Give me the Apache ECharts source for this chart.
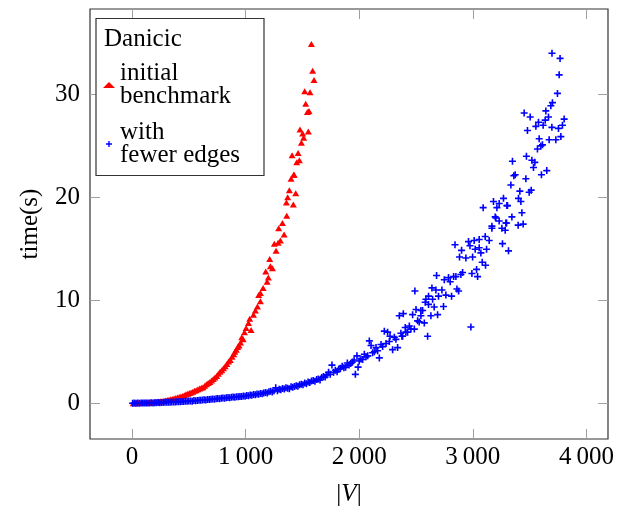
<!DOCTYPE html>
<html>
<head>
<meta charset="utf-8">
<script src="https://cdn.jsdelivr.net/npm/echarts@6/dist/echarts.min.js"></script>
<style>
  html, body { margin: 0; padding: 0; background: #fff; }
  #chart { width: 618px; height: 512px; }
</style>
</head>
<body>
<div id="chart"></div>
<script>
// values, [|V|, time(s)]
const initialBenchmark = [
  [10,0.0],[25,0.01],[40,0.0],[55,0.02],[70,0.01],[85,0.03],[100,0.03],[115,0.04],[130,0.06],[145,0.05],
  [160,0.08],[175,0.09],[190,0.1],[205,0.13],[220,0.14],[235,0.17],[250,0.19],[265,0.2],[280,0.24],[295,0.27],
  [310,0.3],[325,0.33],[340,0.38],[355,0.4],[370,0.46],[385,0.5],[400,0.55],[415,0.6],[430,0.66],[445,0.7],
  [460,0.78],[475,0.86],[490,0.92],[505,0.98],[520,1.05],[535,1.1],[550,1.2],[565,1.25],[580,1.35],[595,1.42],
  [610,1.5],[625,1.55],[640,1.7],[655,1.85],[670,1.95],[685,2.05],[700,2.2],[715,2.35],[730,2.5],[745,2.65],
  [760,2.85],[775,3.05],[790,3.2],[805,3.4],[820,3.6],[835,3.8],[850,4.05],[865,4.2],[880,4.5],[895,4.75],
  [905,5.0],[918,5.2],[930,5.45],[942,5.6],[955,5.9],[966,6.4],[978,6.2],[990,6.9],
  [1004,7.3],[1025,7.8],[1036,8.2],[1048,7.1],[1069,8.6],[1086,9.0],[1104,9.4],[1115,10.5],[1130,9.9],[1130,10.7],
  [1154,11.2],[1177,12.8],[1189,11.8],[1200,12.2],[1212,14.0],[1218,13.3],[1236,13.1],[1253,15.5],[1268,14.8],[1286,15.6],
  [1291,17.0],[1306,15.8],[1324,17.5],[1339,16.4],[1359,19.5],[1362,18.2],[1370,20.0],[1385,20.7],[1400,21.8],[1409,24.1],
  [1420,19.3],[1423,22.2],[1427,22.2],[1441,20.4],[1450,23.4],[1462,24.3],[1473,23.6],[1479,26.6],[1491,25.3],[1502,26.2],
  [1511,25.8],[1520,30.3],[1529,29.1],[1544,28.3],[1552,26.4],[1558,28.4],[1567,30.2],[1579,34.9],[1590,32.3],[1602,31.4]
]

const fewerEdges = [
  [5,0.0],[20,0.01],[35,0.0],[50,0.01],[65,0.0],[80,0.02],[95,0.01],[110,0.02],[125,0.03],[140,0.02],
  [155,0.03],[170,0.04],[185,0.03],[200,0.05],[215,0.04],[230,0.06],[245,0.05],[260,0.07],[275,0.06],[290,0.08],
  [305,0.08],[320,0.1],[335,0.09],[350,0.11],[365,0.12],[380,0.11],[395,0.14],[410,0.13],[425,0.15],[440,0.17],
  [455,0.16],[470,0.19],[485,0.18],[500,0.21],[515,0.22],[530,0.2],[545,0.25],[560,0.24],[575,0.27],[590,0.29],
  [605,0.28],[620,0.31],[635,0.33],[650,0.32],[665,0.36],[680,0.35],[695,0.39],[710,0.4],[725,0.38],[740,0.43],
  [755,0.45],[770,0.44],[785,0.48],[800,0.5],[815,0.47],[830,0.53],[845,0.55],[860,0.52],[875,0.58],[890,0.6],
  [905,0.57],[920,0.63],[935,0.62],[950,0.66],[965,0.64],[980,0.7],[995,0.68],[1010,0.74],[1025,0.72],[1040,0.79],
  [1055,0.77],[1070,0.84],[1085,0.82],[1100,0.9],[1115,0.87],[1130,0.95],[1145,0.92],[1160,1.0],[1175,1.05],[1190,0.98],
  [1205,1.1],[1220,1.15],[1235,1.08],[1250,1.22],[1265,1.5],[1280,1.2],[1295,1.35],[1310,1.3],[1325,1.42],[1340,1.38],
  [1355,1.5],[1370,1.45],[1385,1.4],[1400,1.6],[1415,1.55],[1430,1.62],[1445,1.7],[1460,1.65],[1475,1.78],[1490,1.85],
  [1505,1.8],[1520,1.95],[1535,1.9],[1550,2.05],[1565,2.0],[1580,2.15],[1595,2.2],[1610,2.12],[1625,2.3],[1640,2.35],
  [1655,2.25],[1670,2.5],[1685,2.6],[1700,2.55],[1715,2.75],[1730,3.0],[1745,2.8],[1760,3.7],[1775,3.0],[1790,3.2],
  [1805,3.05],[1820,3.3],[1835,3.4],[1850,3.6],[1865,3.45],[1880,3.5],[1895,3.9],[1910,3.7],[1925,3.85],[1940,4.0],
  [1955,4.2],[1966,2.8],[1980,4.6],[1990,3.5],[2000,4.1],[2015,4.3],[2030,4.25],[2045,4.75],[2060,4.5],[2075,4.6],
  [2089,6.05],[2104,5.6],[2118,4.9],[2133,5.0],[2148,5.4],[2162,5.1],[2177,4.4],[2192,5.7],[2206,5.5],[2221,7.0],
  [2236,5.8],[2250,6.9],[2265,6.0],[2271,6.5],[2294,5.2],[2309,6.4],[2323,6.2],[2338,5.4],[2353,8.5],[2367,6.8],
  [2376,6.5],[2382,6.5],[2388,8.7],[2405,7.35],[2411,6.9],[2426,6.9],[2441,7.5],[2455,7.2],[2470,8.6],[2485,7.2],
  [2490,10.9],[2500,9.1],[2514,8.0],[2528,7.9],[2543,9.0],[2543,8.5],[2558,9.0],[2573,7.8],[2581,9.8],[2587,10.1],
  [2602,6.5],[2610,10.4],[2610,9.6],[2631,8.5],[2640,11.2],[2646,10.1],[2660,9.35],[2675,11.0],[2681,12.4],[2690,8.6],
  [2698,10.4],[2728,11.0],[2742,9.4],[2749,12.0],[2763,10.5],[2786,12.2],[2801,11.8],[2813,10.4],[2831,12.3],[2843,15.4],
  [2851,12.3],[2860,11.1],[2875,10.9],[2883,14.2],[2895,12.5],[2901,14.85],[2910,12.7],[2939,14.1],[2962,15.7],[2975,15.3],
  [2983,7.4],[2992,12.6],[2998,14.2],[3012,15.8],[3021,14.95],[3033,13.0],[3042,12.3],[3056,15.9],[3056,15.1],[3071,14.6],
  [3083,13.7],[3091,19.0],[3109,16.2],[3112,13.4],[3121,14.95],[3144,15.8],[3168,17.0],[3168,17.2],[3182,19.6],[3197,18.1],
  [3203,18.0],[3212,19.0],[3232,19.4],[3232,17.7],[3256,17.0],[3261,15.5],[3270,19.9],[3285,16.8],[3291,17.5],[3297,17.5],
  [3300,19.2],[3305,19.2],[3314,14.8],[3335,21.2],[3344,18.1],[3349,23.5],[3361,22.1],[3373,22.2],[3399,17.3],[3402,19.9],
  [3414,20.6],[3423,19.6],[3432,18.5],[3443,17.4],[3452,28.2],[3467,21.8],[3472,24.0],[3481,26.5],[3496,20.5],[3505,27.8],
  [3514,20.7],[3520,23.6],[3534,22.9],[3546,23.4],[3555,26.9],[3569,24.7],[3578,27.3],[3584,25.7],[3599,25.0],[3604,22.2],
  [3613,25.1],[3619,27.0],[3637,27.5],[3643,28.4],[3651,22.6],[3666,27.8],[3672,25.6],[3687,28.9],[3696,26.8],[3697,34.0],
  [3701,29.2],[3731,25.6],[3745,30.1],[3754,26.7],[3760,31.9],[3768,33.5],[3775,25.9],[3789,27.0],[3804,27.6]
]

const seriesNames = ['initial benchmark', 'with fewer edges']
const legendLabels = ['initial\nbenchmark', 'with\nfewer edges']
const xTicks = [0, 1000, 2000, 3000, 4000]
const yTicks = [0, 10, 20, 30]

const FONT = 'Liberation Serif'
const PLUS = 'path://M2.7,0H4.3V2.7H7V4.3H4.3V7H2.7V4.3H0V2.7H2.7Z'

let myChart = echarts.init(document.getElementById('chart'))

function tickLabel(v) {
  // 1 000 style with a thin space
  if (Math.abs(v) < 1000) return String(v)
  return String(v).replace(/\B(?=(\d{3})+(?!\d))/g, '\u2009')
}

const tickStyle = { inside: true, length: 10, lineStyle: { color: '#a0a0a0', width: 1 } }
const labelStyle = { color: '#000', fontSize: 25, fontFamily: FONT }
const noLine = { show: false, onZero: false }

myChart.setOption({
  animation: false,
  grid: {
    left: 90,
    right: 10,
    top: 9,
    bottom: 73,
    show: true,
    borderColor: '#333',
    borderWidth: 1.2
  },
  xAxis: [
    {
      type: 'value',
      position: 'bottom',
      min: -370,
      max: 4190,
      axisLine: noLine,
      splitLine: { show: false },
      axisTick: Object.assign({ customValues: xTicks }, tickStyle),
      axisLabel: Object.assign({ customValues: xTicks, margin: 6, formatter: tickLabel }, labelStyle),
      name: '|{i|V}|',
      nameLocation: 'middle',
      nameGap: 43,
      nameTextStyle: {
        color: '#000',
        fontSize: 25,
        fontFamily: FONT,
        rich: { i: { fontStyle: 'italic', fontSize: 25, fontFamily: FONT, color: '#000' } }
      }
    },
    {
      type: 'value',
      position: 'top',
      min: -370,
      max: 4190,
      axisLine: noLine,
      splitLine: { show: false },
      axisTick: Object.assign({ customValues: xTicks }, tickStyle),
      axisLabel: { show: false }
    }
  ],
  yAxis: [
    {
      type: 'value',
      position: 'left',
      min: -3.48,
      max: 38.3,
      axisLine: noLine,
      splitLine: { show: false },
      axisTick: Object.assign({ customValues: yTicks }, tickStyle),
      axisLabel: Object.assign({ customValues: yTicks, margin: 10 }, labelStyle),
      name: 'time(s)',
      nameLocation: 'middle',
      nameGap: 47,
      nameTextStyle: { color: '#000', fontSize: 25, fontFamily: FONT }
    },
    {
      type: 'value',
      position: 'right',
      min: -3.48,
      max: 38.3,
      axisLine: noLine,
      splitLine: { show: false },
      axisTick: Object.assign({ customValues: yTicks }, tickStyle),
      axisLabel: { show: false }
    }
  ],
  legend: {
    orient: 'vertical',
    left: 103,
    top: 61,
    padding: 0,
    itemGap: 11,
    itemWidth: 12,
    itemHeight: 6,
    z: 4,
    data: seriesNames,
    formatter: function(name) {
      return legendLabels[seriesNames.indexOf(name)]
    },
    textStyle: { color: '#000', fontSize: 25, lineHeight: 23, fontFamily: FONT }
  },
  graphic: [
    {
      type: 'rect',
      z: 3,
      shape: { x: 96, y: 18.5, width: 168, height: 157 },
      style: { fill: '#fff', stroke: '#333', lineWidth: 1.2 }
    },
    {
      type: 'text',
      z: 4,
      x: 104,
      y: 27,
      style: { text: 'Danicic', fontSize: 25, fontFamily: FONT, fill: '#000' }
    }
  ],
  series: [
    {
      name: seriesNames[0],
      type: 'scatter',
      symbol: 'triangle',
      symbolSize: [7, 6],
      itemStyle: { color: '#ff0000', opacity: 1 },
      emphasis: { disabled: true },
      data: initialBenchmark
    },
    {
      name: seriesNames[1],
      type: 'scatter',
      symbol: PLUS,
      symbolSize: 7,
      itemStyle: { color: '#0000ff', opacity: 1 },
      emphasis: { disabled: true },
      data: fewerEdges
    }
  ]
})
</script>
</body>
</html>
